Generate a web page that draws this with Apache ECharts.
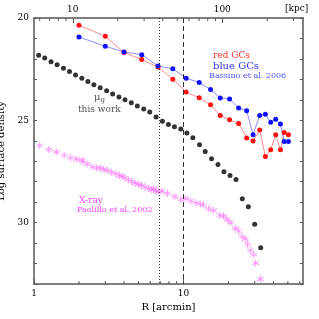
<!DOCTYPE html>
<html><head><meta charset="utf-8">
<script src="https://cdn.jsdelivr.net/npm/echarts@6/dist/echarts.min.js"></script>
<style>html,body{margin:0;padding:0;background:#fff}#c{width:319px;height:319px}</style>
</head><body><div id="c"></div>
<script>
// ---- data ----
const gcRadius = [2.0,3.0,4.0,5.26,6.76,8.49,10.42,12.75,15.18,17.63,20.36,23.39,26.48,29.23,32.36,35.33,38.37,41.43,44.57,47.2,50.4];
const redGCs  = [20.36,20.89,21.69,22.03,22.40,22.99,23.62,23.90,24.24,24.77,24.97,25.15,25.86,26.01,25.47,26.77,26.44,25.71,26.44,25.59,25.71];
const blueGCs = [20.93,21.38,21.66,21.79,22.35,22.48,22.94,23.15,23.49,23.91,23.96,24.40,24.53,25.70,24.77,24.71,25.10,24.95,25.18,26.03,26.03];
const muRadius = [1.075,1.180,1.300,1.427,1.575,1.728,1.896,2.090,2.293,2.516,2.773,3.062,3.359,3.703,4.062,4.477,4.913,5.423,5.950,6.558,7.229,7.932,8.701,9.607,10.54,11.56,12.81,13.98,15.41,17.02,18.67,20.49,22.47,24.77,27.18,29.97,32.88];
const muG = [21.82,21.96,22.14,22.29,22.45,22.62,22.78,22.94,23.10,23.26,23.41,23.56,23.72,23.86,23.99,24.14,24.30,24.45,24.59,24.84,25.05,25.20,25.32,25.42,25.62,25.85,26.20,26.53,26.88,27.16,27.52,27.70,27.89,28.83,29.22,30.08,31.23];
const xrayRadius = [1.092,1.255,1.413,1.590,1.755,1.926,2.090,2.122,2.268,2.451,2.624,2.790,2.936,3.090,3.308,3.534,3.720,3.879,4.062,4.274,4.505,4.742,4.989,5.259,5.534,5.824,6.137,6.310,6.558,6.795,7.161,7.810,8.756,9.607,10.38,11.21,12.12,12.94,13.62,14.72,15.90,17.44,18.56,19.56,20.58,22.23,23.39,24.66,25.95,26.89,28.04,29.50,30.43,32.72];
const xrayValue = [26.23,26.43,26.54,26.71,26.83,26.90,26.95,26.99,27.13,27.27,27.32,27.34,27.39,27.45,27.54,27.61,27.70,27.74,27.81,27.89,27.99,28.07,28.13,28.18,28.27,28.33,28.39,28.35,28.46,28.49,28.46,28.57,28.73,28.87,28.83,28.93,29.03,29.09,29.14,29.32,29.40,29.64,29.68,29.84,30.00,30.28,30.41,30.68,30.81,31.07,31.35,31.56,31.98,32.76];
const vLines = [6.9, 10];
const bottomMinorTicks = [2,3,4,5,6,7,8,9,20,30,40,50,60];
const topMinorTicks = [6,7,8,9,20,30,40,50,60,70,80,90,200,300];
const kpcPerArcmin = 5.5;
const xMin = 1, xMax = Math.pow(10,1.8);
const yMin = 20, yMax = 33;

const FONT = '"DejaVu Serif", serif';
const FRAME = '#555';
const isPow10 = v => Math.abs(Math.log10(v) - Math.round(Math.log10(v))) < 1e-6;
const zip = (a,b) => a.map((v,i)=>[v,b[i]]);

const star = 'path://M-1.1,-10 L1.1,-10 L1.1,10 L-1.1,10 Z M8.1,5.9 L9.2,4.1 L-8.1,-5.9 L-9.2,-4.1 Z M9.2,-4.1 L8.1,-5.9 L-9.2,4.1 L-8.1,5.9 Z';

function tickSeries(vals, xIdx, yVal, dir){
  return {
    type:'custom', xAxisIndex:xIdx, yAxisIndex:0, silent:true, z:5,
    data: vals.map(v=>[v, yVal]),
    renderItem:(p, api)=>{
      const c = api.coord([api.value(0), api.value(1)]);
      return {type:'line', shape:{x1:c[0], y1:c[1], x2:c[0], y2:c[1]+dir*3},
              style:{stroke:FRAME, lineWidth:1}};
    }
  };
}

const chart = echarts.init(document.getElementById('c'), null, {renderer:'canvas'});
chart.setOption({
  animation:false,
  grid:{left:34, right:16, top:18, bottom:35, show:false, containLabel:false, outerBoundsMode:'none'},
  xAxis:[
    {type:'log', logBase:10, min:xMin, max:xMax, position:'bottom',
     axisLine:{lineStyle:{color:FRAME, width:1.5}},
     axisTick:{inside:true, length:5, lineStyle:{color:FRAME}},
     axisLabel:{formatter:v=>isPow10(v)?String(Math.round(v)):'', color:'#000', fontFamily:FONT, fontSize:9, margin:5, showMaxLabel:false},
     splitLine:{show:false},
     name:'R [arcmin]', nameLocation:'middle', nameGap:17, nameTextStyle:{fontFamily:FONT, fontSize:10, color:'#000'}},
    {type:'log', logBase:10, min:xMin*kpcPerArcmin, max:xMax*kpcPerArcmin, position:'top',
     axisLine:{lineStyle:{color:FRAME, width:1.5}},
     axisTick:{inside:true, length:5, lineStyle:{color:FRAME}},
     axisLabel:{formatter:v=>isPow10(v)?String(Math.round(v)):'', color:'#000', fontFamily:FONT, fontSize:9, margin:4, showMinLabel:false, showMaxLabel:false},
     splitLine:{show:false}}
  ],
  yAxis:[
    {type:'value', inverse:true, min:yMin, max:yMax, interval:1, position:'left',
     axisLine:{lineStyle:{color:FRAME, width:1.5}},
     axisTick:{inside:true, length:3, lineStyle:{color:FRAME}},
     axisLabel:{formatter:v=>(v%5===0)?String(v):'', color:'#000', fontFamily:FONT, fontSize:9, margin:5},
     splitLine:{show:false},
     name:'Log surface density', nameLocation:'middle', nameGap:21, nameRotate:90, nameTextStyle:{fontFamily:FONT, fontSize:10, color:'#000'}},
    {type:'value', inverse:true, min:yMin, max:yMax, interval:1, position:'right',
     axisLine:{lineStyle:{color:FRAME, width:1.5}},
     axisTick:{inside:true, length:3, lineStyle:{color:FRAME}},
     axisLabel:{show:false}, splitLine:{show:false}}
  ],
  series:[
    {type:'scatter', name:'xray', data:zip(xrayRadius, xrayValue), symbol:star, symbolSize:7,
     itemStyle:{color:'#ff66ff'},
     markLine:{silent:true, symbol:'none', label:{show:false},
       data:[{xAxis:vLines[0], lineStyle:{type:[1,2], color:'#333', width:1}},
             {xAxis:vLines[1], lineStyle:{type:[5,3], color:'#333', width:1}}]}},
    {type:'scatter', name:'mu', data:zip(muRadius, muG), symbol:'circle', symbolSize:5, itemStyle:{color:'#000'}},
    {type:'line', name:'red', data:zip(gcRadius, redGCs), symbol:'circle', symbolSize:5, showSymbol:true,
     lineStyle:{color:'#ff8c8c', width:1}, itemStyle:{color:'#ff1010'}},
    {type:'line', name:'blue', data:zip(gcRadius, blueGCs), symbol:'circle', symbolSize:5, showSymbol:true,
     lineStyle:{color:'#8c8cff', width:1}, itemStyle:{color:'#1010ff'}},
    tickSeries(bottomMinorTicks, 0, yMax, -1),
    tickSeries(topMinorTicks, 1, yMin, 1)
  ],
  graphic:[
    {type:'text', left:285, top:4, style:{text:'[kpc]', font:'9px '+FONT, fill:'#000'}},
    {type:'text', left:213, top:51, style:{text:'red GCs', font:'9px '+FONT, fill:'#ff3030'}},
    {type:'text', left:213, top:61, style:{text:'blue GCs', font:'10px '+FONT, fill:'#3030ff'}},
    {type:'text', left:209, top:72, style:{text:'Bassino et al. 2006', font:'8px '+FONT, fill:'#5050ff'}},
    {type:'text', left:94, top:92, style:{rich:{a:{fontFamily:FONT,fontSize:10,fill:'#555'},b:{fontFamily:FONT,fontSize:7,fill:'#555',verticalAlign:'bottom',padding:[6,0,0,0]}}, text:'{a|μ}{b|g}'}},
    {type:'text', left:78, top:105, style:{text:'this work', font:'9px '+FONT, fill:'#555'}},
    {type:'text', left:79, top:196, style:{text:'X-ray', font:'9px '+FONT, fill:'#ff40ff'}},
    {type:'text', left:77, top:206, style:{text:'Paolillo et al. 2002', font:'8px '+FONT, fill:'#ff40ff'}}
  ]
});
</script></body></html>
